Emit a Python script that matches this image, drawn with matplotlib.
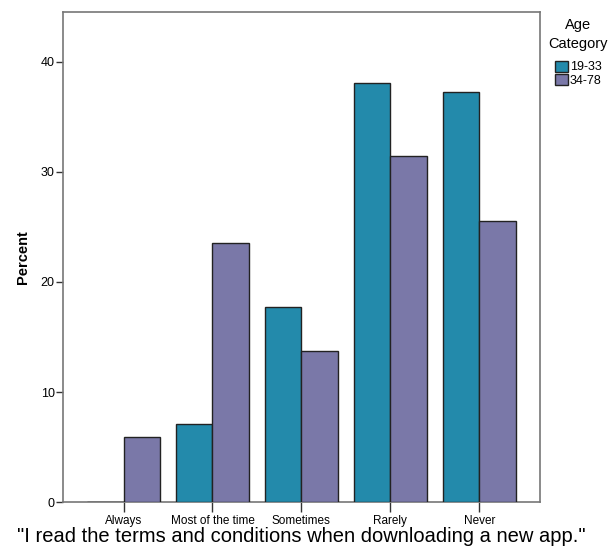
import numpy as np
import matplotlib.pyplot as plt

plt.rcParams['font.family'] = ['Liberation Sans', 'DejaVu Sans']

categories = ["Always", "Most of the time", "Sometimes", "Rarely", "Never"]
groups = ["19-33", "34-78"]
young = [0.0, 7.1, 17.7, 38.1, 37.2]
old = [5.9, 23.5, 13.7, 31.4, 25.5]
colors = ["#238AAB", "#7A78A8"]

fig = plt.figure(figsize=(6.12, 5.5), dpi=100)
ax = fig.add_axes([0.103, 0.087, 0.779, 0.891])

x = np.arange(len(categories))
w = 0.41
ax.bar(x - w / 2, young, w, color=colors[0], edgecolor="#222222", linewidth=1,
       label=groups[0], zorder=3)
ax.bar(x + w / 2, old, w, color=colors[1], edgecolor="#222222", linewidth=1,
       label=groups[1], zorder=3)

ax.set_xlim(-0.68, 4.68)
ax.set_ylim(0, 44.5)
ax.set_yticks([0, 10, 20, 30, 40])
ax.set_xticks(x)
ax.set_xticklabels(categories, fontsize=8.5)
ax.tick_params(axis='y', labelsize=9, length=5, width=1, color="#333333", pad=1)
ax.tick_params(axis='x', length=7, width=1, color="#333333", pad=2)

for s in ax.spines.values():
    s.set_color("#777777")
    s.set_linewidth(1.2)

ax.set_ylabel("Percent", fontsize=10.5, fontweight="bold", labelpad=8)
ax.set_xlabel("\"I read the terms and conditions when downloading a new app.\"",
              fontsize=14.5, labelpad=0)

leg = ax.legend(title="Age\nCategory", loc="upper left", bbox_to_anchor=(1.0, 1.005),
                frameon=False, fontsize=9, handlelength=1.0, handleheight=1.0,
                handletextpad=0.15, labelspacing=0.05, borderaxespad=0.3)
leg.get_title().set_fontsize(10.5)
leg.get_title().set_multialignment("center")
leg.get_title().set_linespacing(1.4)
leg._legend_box.sep = 7

fig.savefig("out.png", dpi=100)
